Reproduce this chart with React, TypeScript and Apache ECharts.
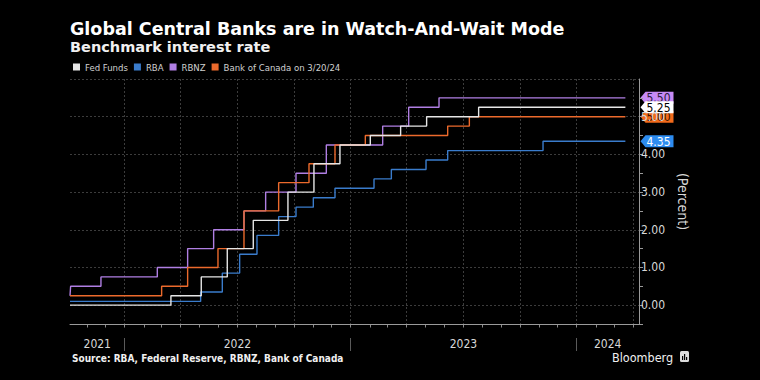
import React, { useEffect, useRef } from "react";
import * as echarts from "echarts";

const TITLE = "Global Central Banks are in Watch-And-Wait Mode";
const SUBTITLE = "Benchmark interest rate";
const SOURCE = "Source: RBA, Federal Reserve, RBNZ, Bank of Canada";
const BRAND = "Bloomberg";
const Y_NAME = "(Percent)";

const SERIES_NAMES = ["Fed Funds", "RBA", "RBNZ", "Bank of Canada on 3/20/24"];
const SERIES_COLORS = ["#e6e6e6", "#3a7ccc", "#b07fe3", "#ec6a2c"];
const BADGE_COLORS = ["#ffffff", "#2d8cf0", "#c78af5", "#f26a1b"];
const BADGE_TEXT = ["#000000", "#ffffff", "#2a1a3a", "#3a1500"];

const FED_DATES = ["2021-10-05", "2022-03-17", "2022-05-05", "2022-06-16", "2022-07-28", "2022-09-22", "2022-11-03", "2022-12-15", "2023-02-02", "2023-03-23", "2023-05-04", "2023-07-27", "2024-03-20"];
const FED_RATES = [0.0, 0.25, 0.75, 1.5, 2.25, 3.0, 3.75, 4.25, 4.5, 4.75, 5.0, 5.25, 5.25];

const RBA_DATES = ["2021-10-05", "2022-05-04", "2022-06-08", "2022-07-06", "2022-08-03", "2022-09-07", "2022-10-05", "2022-11-02", "2022-12-07", "2023-02-08", "2023-03-08", "2023-05-03", "2023-06-07", "2023-11-08", "2024-03-20"];
const RBA_RATES = [0.1, 0.35, 0.85, 1.35, 1.85, 2.35, 2.6, 2.85, 3.1, 3.35, 3.6, 3.85, 4.1, 4.35, 4.35];

const RBNZ_DATES = ["2021-10-05", "2021-10-06", "2021-11-24", "2022-02-23", "2022-04-13", "2022-05-25", "2022-07-13", "2022-08-17", "2022-10-05", "2022-11-23", "2023-02-22", "2023-04-05", "2023-05-24", "2024-03-20"];
const RBNZ_RATES = [0.25, 0.5, 0.75, 1.0, 1.5, 2.0, 2.5, 3.0, 3.5, 4.25, 4.75, 5.25, 5.5, 5.5];

const BOC_DATES = ["2021-10-05", "2022-03-02", "2022-04-13", "2022-06-01", "2022-07-13", "2022-09-07", "2022-10-26", "2022-12-07", "2023-01-25", "2023-06-07", "2023-07-12", "2024-03-20"];
const BOC_RATES = [0.25, 0.5, 1.0, 1.5, 2.5, 3.25, 3.75, 4.25, 4.5, 4.75, 5.0, 5.0];

const X_MIN = "2021-10-05";
const X_MAX = "2024-04-11";
const Y_MIN = -0.5;
const Y_MAX = 6;
const Y_STEP = 0.5;
const YEAR_LABELS = ["2021", "2022", "2023", "2024"];

const NARROW = "'DejaVu Sans Condensed', 'Liberation Sans Narrow', sans-serif";
const WIDE = "'DejaVu Sans', Verdana, sans-serif";

function ts(s: string): number {
  const [y, m, d] = s.split("-").map(Number);
  return new Date(y, m - 1, d).getTime();
}

function pairs(dates: string[], vals: number[]) {
  return dates.map((d, i) => [ts(d), vals[i]]);
}

const SERIES_DATA = [
  pairs(FED_DATES, FED_RATES),
  pairs(RBA_DATES, RBA_RATES),
  pairs(RBNZ_DATES, RBNZ_RATES),
  pairs(BOC_DATES, BOC_RATES),
];

export default function App() {
  const ref = useRef<HTMLDivElement>(null);
  useEffect(() => {
    if (!ref.current) return;
    const chart = echarts.init(ref.current, null, { renderer: "svg" });
    const option: any = {
      animation: false,
      backgroundColor: "#000000",
      grid: { left: 70, right: 121, top: 79, bottom: 56, containLabel: false },
      legend: {
        left: 73,
        top: 62,
        padding: 0,
        itemGap: 6,
        itemWidth: 7,
        itemHeight: 7,
        icon: "rect",
        data: SERIES_NAMES,
        textStyle: { color: "#d0d0d0", fontSize: 9.5, fontFamily: NARROW },
      },
      xAxis: {
        type: "time",
        min: ts(X_MIN),
        max: ts(X_MAX),
        axisLine: { show: true, onZero: false, lineStyle: { color: "#9a9a9a", width: 1 } },
        axisTick: { show: false },
        axisLabel: { show: false },
        splitLine: { show: false },
      },
      yAxis: {
        type: "value",
        position: "right",
        min: Y_MIN,
        max: Y_MAX,
        interval: Y_STEP,
        axisLine: { show: true, onZero: false, lineStyle: { color: "#9a9a9a", width: 1 } },
        axisTick: { show: true, inside: false, length: 4, lineStyle: { color: "#9a9a9a" } },
        axisLabel: {
          show: true,
          showMaxLabel: false,
          margin: 2,
          color: "#d8d8d8",
          fontSize: 12,
          fontFamily: NARROW,
          formatter: (v: number) => (Number.isInteger(v) && v >= 0 ? v.toFixed(2) : ""),
        },
        splitLine: {
          show: true,
          lineStyle: { color: ["rgba(0,0,0,0)", "#3c3c3c"], type: [2, 2], width: 1 },
        },
        name: Y_NAME,
        nameLocation: "middle",
        nameRotate: -90,
        nameGap: 36,
        nameTextStyle: { color: "#d8d8d8", fontSize: 14, fontFamily: NARROW },
      },
      series: SERIES_NAMES.map((name, i) => ({
        name,
        type: "line",
        step: "end",
        data: SERIES_DATA[i],
        showSymbol: false,
        symbol: "none",
        color: SERIES_COLORS[i],
        lineStyle: { color: SERIES_COLORS[i], width: 1.4 },
        z: 3 + (i === 0 ? 1 : 0),
      })),
    };
    chart.setOption(option);

    const px = (t: number) => chart.convertToPixel({ xAxisIndex: 0 }, t) as number;
    const py = (v: number) => chart.convertToPixel({ yAxisIndex: 0 }, v) as number;
    const xMin = ts(X_MIN);
    const xMax = ts(X_MAX);
    const x0 = px(xMin);
    const x1 = px(xMax);
    const yTop = py(Y_MAX);
    const yBot = py(Y_MIN);

    const els: any[] = [];
    els.push({ type: "text", x: 70, y: 29, style: { text: TITLE, fill: "#ffffff", font: `bold 17.5px ${WIDE}`, verticalAlign: "middle" } });
    els.push({ type: "text", x: 70, y: 47, style: { text: SUBTITLE, fill: "#f0f0f0", font: `bold 14.5px ${WIDE}`, verticalAlign: "middle" } });
    els.push({ type: "text", x: 72, y: 358, style: { text: SOURCE, fill: "#f0f0f0", font: `bold 10px ${NARROW}`, verticalAlign: "middle" } });
    els.push({ type: "text", x: 612, y: 357, style: { text: BRAND, fill: "#f0f0f0", font: `12.5px ${NARROW}`, verticalAlign: "middle" } });
    els.push({ type: "rect", shape: { x: 680, y: 351, width: 9, height: 11, r: 1.5 }, style: { fill: "#dcdcdc" } });
    [[682, 356, 4], [684, 354, 6], [686, 357, 3]].forEach(([bx, by, bh]) => {
      els.push({ type: "rect", shape: { x: bx, y: by, width: 1.2, height: bh }, style: { fill: "#000" } });
    });
    // bottom axis line (explicit, so it is crisp)
    const yb = Math.round(yBot) + 0.5;
    els.push({ type: "line", shape: { x1: x0, y1: yb, x2: x1, y2: yb }, style: { stroke: "#9a9a9a", lineWidth: 1 } });

    const start = new Date(xMin);
    let y = start.getFullYear();
    let m = start.getMonth() + 1;
    while (true) {
      const t = new Date(y, m, 1).getTime();
      if (t >= xMax) break;
      const x = Math.round(px(t)) + 0.5;
      els.push({ type: "line", shape: { x1: x, y1: yb, x2: x, y2: yb + 3 }, style: { stroke: "#8a8a8a", lineWidth: 1 } });
      if (m % 3 === 0) {
        els.push({ type: "line", z: -1, shape: { x1: x, y1: yTop, x2: x, y2: yBot }, style: { stroke: "#3c3c3c", lineWidth: 1, lineDash: [2, 2] } });
      }
      if (m === 0) {
        els.push({ type: "line", shape: { x1: x, y1: yBot + 14, x2: x, y2: yBot + 27 }, style: { stroke: "#5a5a5a", lineWidth: 1 } });
      }
      m += 1;
      if (m === 12) { m = 0; y += 1; }
    }
    YEAR_LABELS.forEach((lab) => {
      const yr = Number(lab);
      const a = Math.max(new Date(yr, 0, 1).getTime(), xMin);
      const b = Math.min(new Date(yr + 1, 0, 1).getTime(), xMax);
      const cx = (px(a) + px(b)) / 2;
      els.push({ type: "text", x: cx, y: yBot + 20, style: { text: lab, fill: "#d8d8d8", font: `12px ${NARROW}`, align: "center", verticalAlign: "middle" } });
    });

    const order = [1, 2, 3, 0];
    order.forEach((i) => {
      const data = SERIES_DATA[i];
      const last = data[data.length - 1][1] as number;
      const by = py(last);
      const bx = x1 + 1.5;
      els.push({
        type: "group",
        x: bx,
        y: by,
        z: 20,
        children: [
          { type: "polygon", shape: { points: [[0, 0], [5, -6], [33, -6], [33, 6], [5, 6]] }, style: { fill: BADGE_COLORS[i] } },
          { type: "text", x: 6, y: 0.5, style: { text: last.toFixed(2), fill: BADGE_TEXT[i], font: `12px ${NARROW}`, verticalAlign: "middle" } },
        ],
      });
    });

    chart.setOption({ graphic: { elements: els } });
    return () => chart.dispose();
  }, []);
  return <div ref={ref} style={{ position: "fixed", left: 0, top: 0, width: 760, height: 380, background: "#000" }} />;
}
